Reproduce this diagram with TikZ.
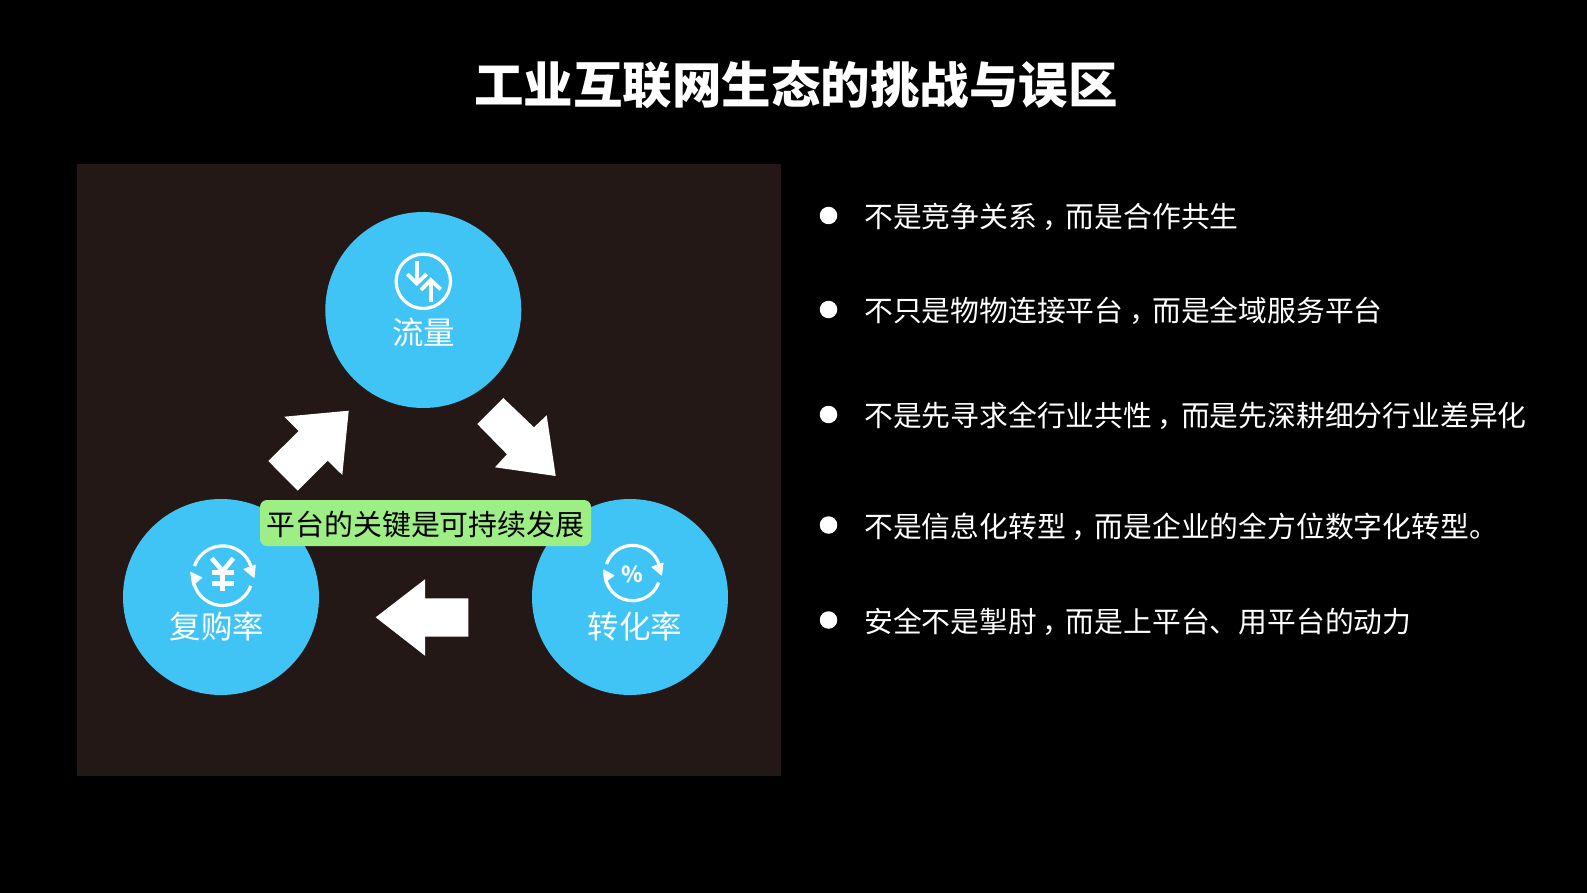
\documentclass[tikz,border=0pt]{standalone}
\usepackage{fontspec}
\setmainfont{Noto Sans CJK SC}
\usepackage{tikz}
\usetikzlibrary{shapes, backgrounds, calc}
\definecolor{panelbrown}{HTML}{231815}
\definecolor{ballblue}{HTML}{40C4F5}
\definecolor{labelgreen}{HTML}{9DEE85}
\newcommand{\midcomma}{\kern.2em，\kern-.2em}
\tikzset{
	ball/.style={circle, fill=ballblue, minimum size=196pt, inner sep=0pt},
	balltext/.style={text=white, inner sep=0pt, font=\fontsize{31.5}{33}\selectfont},
	dot/.style={circle, fill=white, minimum size=17.5pt, inner sep=0pt},
	point/.style={anchor=west, text=white, inner sep=0pt, font=\fontsize{28.8}{30}\selectfont},
	blockarrow/.style={fill=white},
	iconline/.style={draw=white, line width=3.2pt},
	iconhead/.style={draw=white, fill=white, line width=1pt, line join=round}
}
\begin{document}
\begin{tikzpicture}[x=1pt, y=-1pt]
				\useasboundingbox (0, 0) rectangle (1587, 893);
				\fill[black] (0, 0) rectangle (1587, 893);
				\fill[panelbrown] (77, 164) rectangle (781, 776);
				
				\node[text=white, font=\fontsize{49.5}{52}\selectfont\bfseries] (title) at (796, 85) {工业互联网生态的挑战与误区};
				
				\node[ball] (traffic) at (423.3, 310) {};
				\node[ball] (repurchase) at (221, 597) {};
				\node[ball] (conversion) at (630, 597) {};
				
				\fill[blockarrow] (348.7, 410.7) -- (284.3, 416.7) -- (298.7, 431) -- (268.3, 461) -- (297.7, 490.7) -- (327.7, 460.7) -- (342.3, 475) -- cycle;
				\fill[blockarrow] (503.3, 398) -- (534, 427.3) -- (546.7, 415.3) -- (555.7, 476) -- (495, 467.3) -- (507, 454.3) -- (477.3, 424) -- cycle;
				\fill[blockarrow] (375.7, 617.3) -- (425, 579.3) -- (425, 598.3) -- (468.3, 598.3) -- (468.3, 636.7) -- (425, 636.7) -- (425, 655.7) -- cycle;
				
				\draw[iconline] (423.3, 281.3) circle[radius=27.2pt];
				\draw[iconline, line width=3.8pt] (416.7, 261) -- (416.7, 283);
				\draw[iconline, line width=3.8pt] (407.3, 274) -- (416.7, 283.5) -- (426.7, 274);
				\draw[iconline, line width=3.8pt] (430.7, 301.7) -- (430.7, 280);
				\draw[iconline, line width=3.8pt] (421, 290) -- (430.7, 280) -- (440.7, 289.3);
				\node[balltext] (trafficname) at (423.5, 332) {流量};
				
				\coordinate (Y) at (222.7, 575.7);
				\draw[iconline] ($(Y) + (-28.2, -9.7)$) arc[start angle=161, end angle=0, radius=29.8pt];
				\filldraw[iconhead] (244, 569.3) -- (254, 577.3) -- (255.3, 565) -- cycle;
				\draw[iconline] ($(Y) + (28, 10.2)$) arc[start angle=-20, end angle=-180, radius=29.8pt];
				\filldraw[iconhead] (190.7, 572.3) -- (201.7, 577.7) -- (192.7, 585) -- cycle;
				\draw[iconline, line width=4.6pt] (211.7, 558.3) -- (222.7, 571) -- (233.3, 558.3);
				\draw[iconline, line width=4.6pt] (222.7, 571) -- (222.7, 591);
				\draw[iconline, line width=4.6pt] (211.7, 572.3) -- (234, 572.3);
				\draw[iconline, line width=4.6pt] (211.7, 583.3) -- (234, 583.3);
				\node[balltext] (repurchasename) at (217, 626) {复购率};
				
				\coordinate (P) at (632.7, 573);
				\draw[iconline] ($(P) + (-26.2, -9)$) arc[start angle=161, end angle=0, radius=27.7pt];
				\filldraw[iconhead] (652, 567) -- (661.5, 575) -- (663, 563) -- cycle;
				\draw[iconline] ($(P) + (26, 9.5)$) arc[start angle=-20, end angle=-180, radius=27.7pt];
				\filldraw[iconhead] (603.5, 570) -- (614, 575.5) -- (605, 582) -- cycle;
				\node[text=white, inner sep=0pt, font=\fontsize{22}{24}\selectfont\bfseries] (percent) at (632.7, 574) {\%};
				\node[balltext] (conversionname) at (635, 626) {转化率};
				
				\node[fill=labelgreen, rounded corners=7pt, minimum width=331pt, minimum height=46pt, inner sep=0pt] (keylabel) at (425.5, 523) {};
				\node[inner sep=0pt, font=\fontsize{28.9}{30}\selectfont] (keytext) at (425.5, 524.5) {平台的关键是可持续发展};
				
				\node[dot] (dotone) at (828.5, 215.5) {};
				\node[point] (pointone) at (864, 217) {不是竞争关系\midcomma 而是合作共生};
				\node[dot] (dottwo) at (828.5, 309.5) {};
				\node[point] (pointtwo) at (864, 311) {不只是物物连接平台\midcomma 而是全域服务平台};
				\node[dot] (dotthree) at (828.5, 414.5) {};
				\node[point] (pointthree) at (864, 416) {不是先寻求全行业共性\midcomma 而是先深耕细分行业差异化};
				\node[dot] (dotfour) at (828.5, 525) {};
				\node[point] (pointfour) at (864, 527) {不是信息化转型\midcomma 而是企业的全方位数字化转型。};
				\node[dot] (dotfive) at (828.5, 620) {};
				\node[point] (pointfive) at (864, 622) {安全不是掣肘\midcomma 而是上平台、用平台的动力};
\end{tikzpicture}
\end{document}
